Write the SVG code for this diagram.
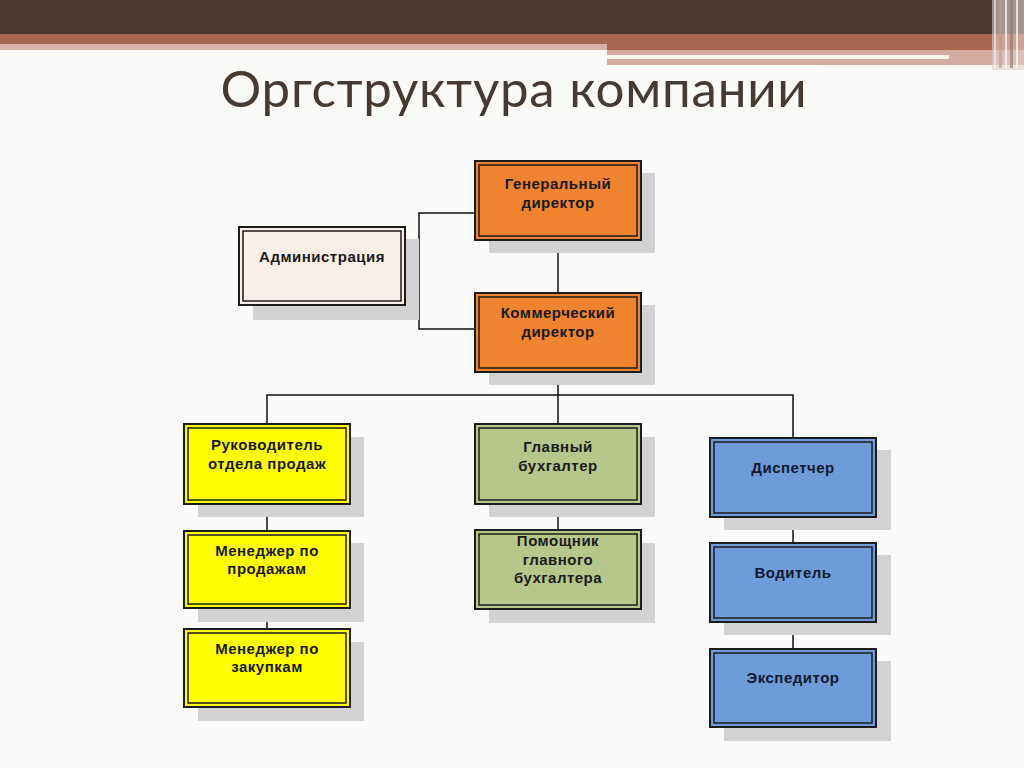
<svg xmlns="http://www.w3.org/2000/svg" width="1024" height="768" viewBox="0 0 1024 768">
<defs>
<style>
.bg{fill:#fafaf8}
.sh{fill:#d2d2d2}
.box{stroke:#1c1c1c;stroke-width:2}
.inner{fill:none;stroke:#1c1c1c;stroke-width:1.5}
.org{fill:#ef832f}
.adm{fill:#fcefe8}
.yel{fill:#ffff00}
.grn{fill:#b7c78c}
.blu{fill:#709bd9}
.lbl{font-family:"Liberation Sans",Arial,sans-serif;font-size:15px;font-weight:bold;fill:#1a1a1a;text-anchor:middle;letter-spacing:0.5px}
.lblb{fill:#0e1a30}
.conn{fill:none;stroke:#111;stroke-width:1.5}
.title{font-family:Lato,"Open Sans",sans-serif;font-size:51px;fill:#463a33;text-anchor:middle;letter-spacing:0.8px}
</style>
</defs>
<rect class="bg" x="0" y="0" width="1024" height="768"/>
<g id="header">
<rect x="0" y="0" width="1024" height="34" fill="#4d3a2f"/>
<rect x="0" y="34" width="1024" height="10" fill="#a8654f"/>
<rect x="0" y="44" width="607" height="6" fill="#d6b3a9"/>
<rect x="607" y="44" width="417" height="6" fill="#a8654f"/>
<rect x="607" y="50" width="417" height="15" fill="#d3aba1"/>
<rect x="607" y="55" width="342" height="4" fill="#fdf3ea"/>
<rect x="826" y="65" width="180" height="3" fill="#fdf6f2"/>
<rect x="992" y="0" width="32" height="70" fill="#e0cfc8" opacity="0.6"/>
<rect x="994" y="0" width="2" height="68" fill="#ffffff" opacity="0.5"/>
<rect x="999" y="0" width="3" height="68" fill="#b59d90" opacity="0.6"/>
<rect x="1005" y="0" width="2" height="68" fill="#ffffff" opacity="0.7"/>
<rect x="1010" y="0" width="3" height="68" fill="#8f786b" opacity="0.6"/>
<rect x="1016" y="0" width="2" height="68" fill="#ffffff" opacity="0.7"/>
</g>
<text class="title" x="514" y="107">Оргструктура компании</text>
<g id="connectors">
<path class="conn" d="M405,266 H419 M475,213 H419 V329 H475"/>
<path class="conn" d="M558,241 V293"/>
<path class="conn" d="M558,372 V424 M267,424 V395 H793 V438"/>
<path class="conn" d="M267,504 V531 M267,608 V629"/>
<path class="conn" d="M558,504 V530"/>
<path class="conn" d="M793,517 V543 M793,622 V649"/>
</g>
<g id="gen">
<rect class="sh" x="489" y="173" width="166" height="80"/>
<rect class="box org" x="475" y="161" width="166" height="79"/>
<rect class="inner" x="479" y="165" width="158" height="71"/>
<text class="lbl" x="558" y="189">Генеральный</text>
<text class="lbl" x="558" y="208">директор</text>
</g>
<g id="adm">
<rect class="sh" x="253" y="239" width="166" height="81"/>
<rect class="box adm" x="239" y="227" width="166" height="78"/>
<rect class="inner" x="243" y="231" width="158" height="70"/>
<text class="lbl" x="322" y="262">Администрация</text>
</g>
<g id="com">
<rect class="sh" x="489" y="305" width="166" height="80"/>
<rect class="box org" x="475" y="293" width="166" height="79"/>
<rect class="inner" x="479" y="297" width="158" height="71"/>
<text class="lbl" x="558" y="318">Коммерческий</text>
<text class="lbl" x="558" y="337">директор</text>
</g>
<g id="sales-head">
<rect class="sh" x="198" y="437" width="166" height="80"/>
<rect class="box yel" x="184" y="424" width="166" height="80"/>
<rect class="inner" x="188" y="428" width="158" height="72"/>
<text class="lbl" x="267" y="450">Руководитель</text>
<text class="lbl" x="267" y="469">отдела продаж</text>
</g>
<g id="mgr-sales">
<rect class="sh" x="198" y="543" width="166" height="79"/>
<rect class="box yel" x="184" y="531" width="166" height="77"/>
<rect class="inner" x="188" y="535" width="158" height="69"/>
<text class="lbl" x="267" y="556">Менеджер по</text>
<text class="lbl" x="267" y="574">продажам</text>
</g>
<g id="mgr-purch">
<rect class="sh" x="198" y="642" width="166" height="79"/>
<rect class="box yel" x="184" y="629" width="166" height="78"/>
<rect class="inner" x="188" y="633" width="158" height="70"/>
<text class="lbl" x="267" y="654">Менеджер по</text>
<text class="lbl" x="267" y="672">закупкам</text>
</g>
<g id="chief-acc">
<rect class="sh" x="489" y="437" width="166" height="80"/>
<rect class="box grn" x="475" y="424" width="166" height="80"/>
<rect class="inner" x="479" y="428" width="158" height="72"/>
<text class="lbl" x="558" y="452">Главный</text>
<text class="lbl" x="558" y="471">бухгалтер</text>
</g>
<g id="asst-acc">
<rect class="sh" x="489" y="543" width="166" height="80"/>
<rect class="box grn" x="475" y="530" width="166" height="79"/>
<rect class="inner" x="479" y="534" width="158" height="71"/>
<text class="lbl" x="558" y="546">Помощник</text>
<text class="lbl" x="558" y="565">главного</text>
<text class="lbl" x="558" y="583">бухгалтера</text>
</g>
<g id="dispatcher">
<rect class="sh" x="724" y="450" width="167" height="80"/>
<rect class="box blu" x="710" y="438" width="166" height="79"/>
<rect class="inner" x="714" y="442" width="158" height="71"/>
<text class="lbl lblb" x="793" y="473">Диспетчер</text>
</g>
<g id="driver">
<rect class="sh" x="724" y="555" width="167" height="80"/>
<rect class="box blu" x="710" y="543" width="166" height="79"/>
<rect class="inner" x="714" y="547" width="158" height="71"/>
<text class="lbl lblb" x="793" y="578">Водитель</text>
</g>
<g id="forwarder">
<rect class="sh" x="724" y="661" width="167" height="80"/>
<rect class="box blu" x="710" y="649" width="166" height="78"/>
<rect class="inner" x="714" y="653" width="158" height="70"/>
<text class="lbl lblb" x="793" y="683">Экспедитор</text>
</g>
</svg>
